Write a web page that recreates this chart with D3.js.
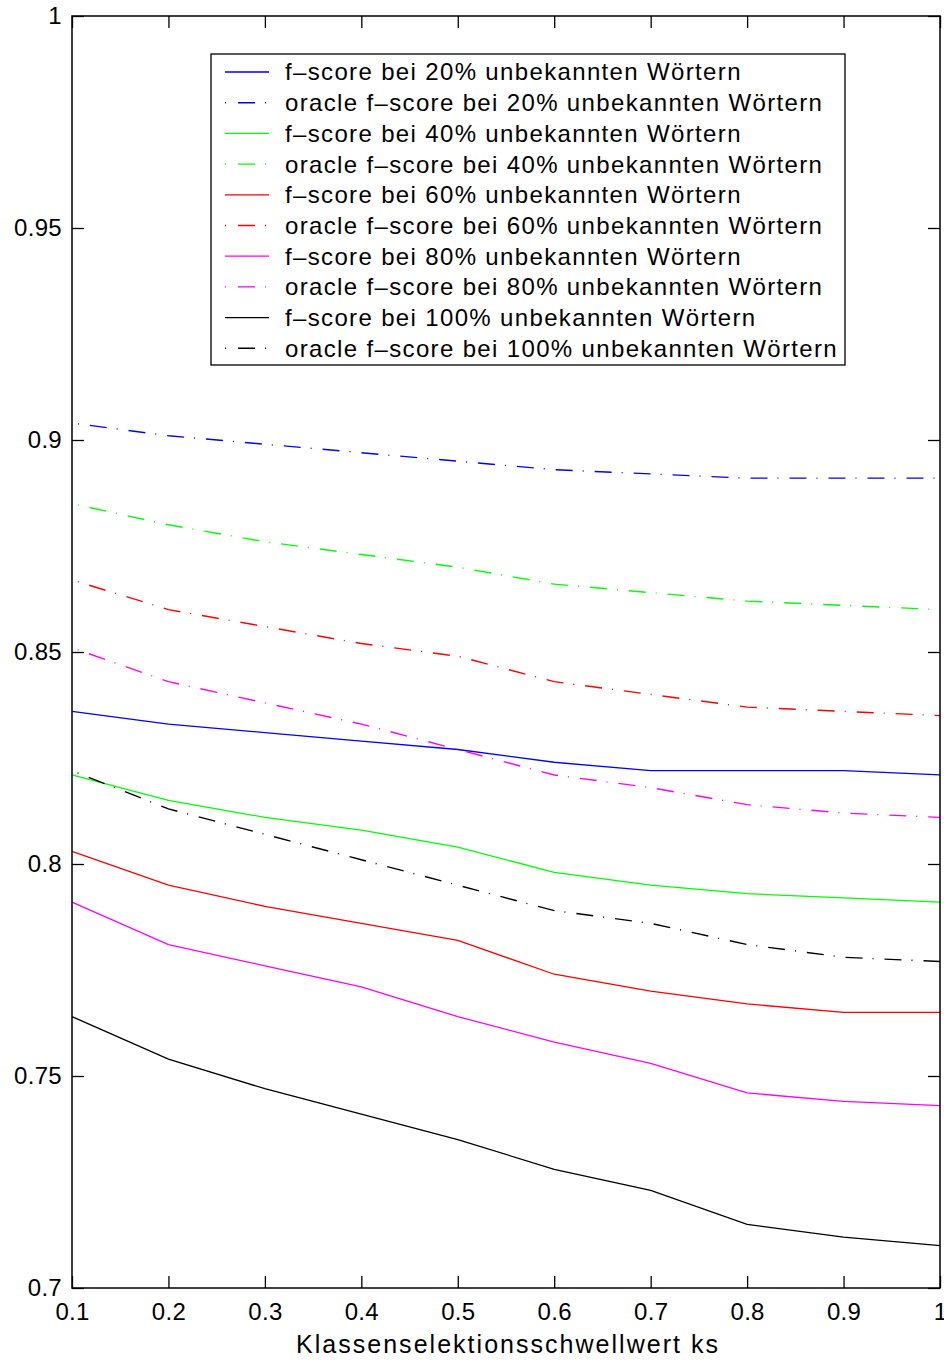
<!DOCTYPE html>
<html>
<head>
<meta charset="utf-8">
<script src="https://cdn.jsdelivr.net/npm/d3@7"></script>
<style>
  body { margin: 0; background: #fff; }
  text { font-family: "Liberation Sans", Arial, sans-serif; }
</style>
</head>
<body>
<div id="chart"></div>
<script>
// Data
const ks = [0.1, 0.2, 0.3, 0.4, 0.5, 0.6, 0.7, 0.8, 0.9, 1.0];

const f20 = [0.836, 0.833, 0.831, 0.829, 0.827, 0.824, 0.822, 0.822, 0.822, 0.821];
const oracle20 = [0.904, 0.901, 0.899, 0.897, 0.895, 0.893, 0.892, 0.891, 0.891, 0.891];
const f40 = [0.821, 0.815, 0.811, 0.808, 0.804, 0.798, 0.795, 0.793, 0.792, 0.791];
const oracle40 = [0.885, 0.880, 0.876, 0.873, 0.870, 0.866, 0.864, 0.862, 0.861, 0.860];
const f60 = [0.803, 0.795, 0.790, 0.786, 0.782, 0.774, 0.770, 0.767, 0.765, 0.765];
const oracle60 = [0.867, 0.860, 0.856, 0.852, 0.849, 0.843, 0.840, 0.837, 0.836, 0.835];
const f80 = [0.791, 0.781, 0.776, 0.771, 0.764, 0.758, 0.753, 0.746, 0.744, 0.743];
const oracle80 = [0.851, 0.843, 0.838, 0.833, 0.827, 0.821, 0.818, 0.814, 0.812, 0.811];
const f100 = [0.764, 0.754, 0.747, 0.741, 0.735, 0.728, 0.723, 0.715, 0.712, 0.710];
const oracle100 = [0.822, 0.813, 0.807, 0.801, 0.795, 0.789, 0.786, 0.781, 0.778, 0.777];

const xTicks = [0.1, 0.2, 0.3, 0.4, 0.5, 0.6, 0.7, 0.8, 0.9, 1];
const yTicks = [0.7, 0.75, 0.8, 0.85, 0.9, 0.95, 1];

const series = [
  { name: "f\u2013score bei 20% unbekannten Wörtern", values: f20, color: "#0000ff", oracle: false },
  { name: "oracle f\u2013score bei 20% unbekannten Wörtern", values: oracle20, color: "#0000ff", oracle: true },
  { name: "f\u2013score bei 40% unbekannten Wörtern", values: f40, color: "#00ff00", oracle: false },
  { name: "oracle f\u2013score bei 40% unbekannten Wörtern", values: oracle40, color: "#00ff00", oracle: true },
  { name: "f\u2013score bei 60% unbekannten Wörtern", values: f60, color: "#ff0000", oracle: false },
  { name: "oracle f\u2013score bei 60% unbekannten Wörtern", values: oracle60, color: "#ff0000", oracle: true },
  { name: "f\u2013score bei 80% unbekannten Wörtern", values: f80, color: "#ff00ff", oracle: false },
  { name: "oracle f\u2013score bei 80% unbekannten Wörtern", values: oracle80, color: "#ff00ff", oracle: true },
  { name: "f\u2013score bei 100% unbekannten Wörtern", values: f100, color: "#000000", oracle: false },
  { name: "oracle f\u2013score bei 100% unbekannten Wörtern", values: oracle100, color: "#000000", oracle: true }
];

// Layout
const W = 944;
const H = 1361;
const margin = { top: 16, right: 4, bottom: 73, left: 72 };
const innerW = W - margin.left - margin.right;
const innerH = H - margin.top - margin.bottom;
const TICK = 12;
const DASHDOT = "17,10,1,11";

const x = d3.scaleLinear().domain([0.1, 1]).range([0, innerW]);
const y = d3.scaleLinear().domain([0.7, 1]).range([innerH, 0]);

const svg = d3.select("#chart").append("svg")
  .attr("width", W)
  .attr("height", H);

const g = svg.append("g").attr("transform", `translate(${margin.left},${margin.top})`);

// Lines
const line = d3.line()
  .x((d, i) => x(ks[i]))
  .y((d) => y(d));

g.append("g").selectAll("path")
  .data(series)
  .enter()
  .append("path")
  .attr("d", (d) => line(d.values))
  .attr("fill", "none")
  .attr("stroke", (d) => d.color)
  .attr("stroke-width", (d) => d.oracle ? 1.4 : 1.3)
  .attr("stroke-dasharray", (d) => d.oracle ? DASHDOT : null)
  .attr("stroke-dashoffset", (d) => d.oracle ? 21 : null);

// Axes (ticks inside, on all four sides)
const fmt = (d) => (d === 1 ? "1" : String(d));

g.append("g")
  .attr("transform", `translate(0,${innerH})`)
  .call(d3.axisBottom(x).tickValues(xTicks).tickSize(-TICK).tickPadding(15).tickFormat(fmt))
  .call((a) => a.select(".domain").remove());

g.append("g")
  .call(d3.axisTop(x).tickValues(xTicks).tickSize(-TICK).tickFormat(""))
  .call((a) => a.select(".domain").remove());

g.append("g")
  .call(d3.axisLeft(y).tickValues(yTicks).tickSize(-TICK).tickPadding(10).tickFormat(fmt))
  .call((a) => a.select(".domain").remove());

g.append("g")
  .attr("transform", `translate(${innerW},0)`)
  .call(d3.axisRight(y).tickValues(yTicks).tickSize(-TICK).tickFormat(""))
  .call((a) => a.select(".domain").remove());

g.selectAll(".tick line").attr("stroke", "#000").attr("stroke-width", 1.3);
g.selectAll(".tick text")
  .attr("fill", "#000")
  .style("font-size", "24px")
  .style("letter-spacing", "0.3px")
  .style("font-family", "'Liberation Sans', Arial, sans-serif");

// Frame
g.append("rect")
  .attr("x", 0)
  .attr("y", 0)
  .attr("width", innerW)
  .attr("height", innerH)
  .attr("fill", "none")
  .attr("stroke", "#000")
  .attr("stroke-width", 1.5);

// X label
svg.append("text")
  .attr("x", 296)
  .attr("y", 1353)
  .attr("textLength", 422)
  .attr("lengthAdjust", "spacing")
  .style("font-size", "25px")
  .text("Klassenselektionsschwellwert ks");

// Legend
const legend = svg.append("g").attr("id", "legend");
const LX = 211, LY = 54, LW = 634, LH = 311, ROW = 30.7;

legend.append("rect")
  .attr("x", LX)
  .attr("y", LY)
  .attr("width", LW)
  .attr("height", LH)
  .attr("fill", "#fff")
  .attr("stroke", "#000")
  .attr("stroke-width", 1.3);

const items = legend.selectAll("g.item")
  .data(series)
  .enter()
  .append("g")
  .attr("class", "item")
  .attr("transform", (d, i) => `translate(${LX},${LY + 18 + i * ROW})`);

items.append("line")
  .attr("x1", 14)
  .attr("x2", 58)
  .attr("y1", 0)
  .attr("y2", 0)
  .attr("stroke", (d) => d.color)
  .attr("stroke-width", (d) => d.oracle ? 1.4 : 1.3)
  .attr("stroke-dasharray", (d) => d.oracle ? "1,12,17,10,1,11" : null);

items.append("text")
  .attr("x", 74)
  .attr("y", 0)
  .attr("dy", "0.35em")
  .style("font-size", "24px")
  .style("letter-spacing", "1.35px")
  .text((d) => d.name);
</script>
</body>
</html>
